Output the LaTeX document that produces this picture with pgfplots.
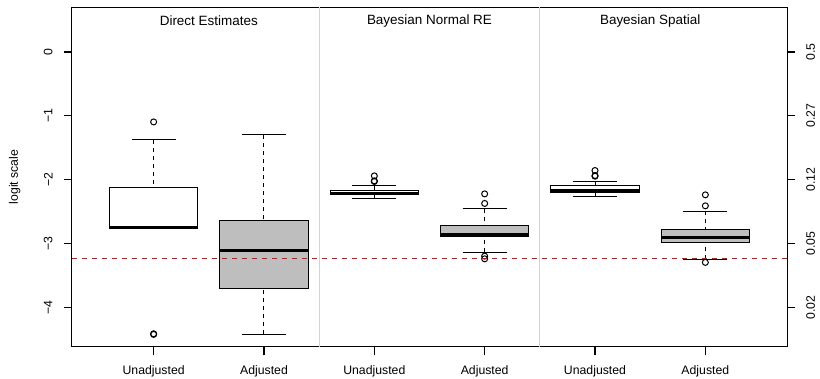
\documentclass[border=0pt]{standalone}
\usepackage{fontspec}
\setmainfont{Liberation Sans}
\usepackage{pgfplots}
\pgfplotsset{compat=1.18}
\usepgfplotslibrary{statistics}
\definecolor{boxgray}{HTML}{BEBEBE}
\definecolor{sepgray}{HTML}{D3D3D3}
\pgfplotsset{
  boxplot/draw/lower whisker/.code={%
    \draw[dash pattern=on 3pt off 3pt] (boxplot cs:\pgfplotsboxplotvalue{lower whisker}) -- (boxplot cs:\pgfplotsboxplotvalue{lower quartile});
    \draw[solid] (boxplot whisker cs:\pgfplotsboxplotvalue{lower whisker},0) -- (boxplot whisker cs:\pgfplotsboxplotvalue{lower whisker},1);
  },
  boxplot/draw/upper whisker/.code={%
    \draw[dash pattern=on 3pt off 3pt] (boxplot cs:\pgfplotsboxplotvalue{upper whisker}) -- (boxplot cs:\pgfplotsboxplotvalue{upper quartile});
    \draw[solid] (boxplot whisker cs:\pgfplotsboxplotvalue{upper whisker},0) -- (boxplot whisker cs:\pgfplotsboxplotvalue{upper whisker},1);
  },
  myax/.style={
    at={(0,0)}, anchor=south west,
    scale only axis, width=536.4pt, height=255pt,
    xmin=0.26, xmax=6.74, ymin=-4.62, ymax=0.704,
    axis line style={line width=0.75pt},
    tick label style={font=\fontsize{9.2}{11}\selectfont},
    tick align=outside, major tick length=6.3pt,
    tick style={black, line width=0.75pt},
  },
  bx/.style={draw=black, line width=0.75pt, mark=o, mark size=2.25pt,
    mark options={solid, line width=0.75pt, draw=black}},
}
\begin{document}
\begin{tikzpicture}
\begin{axis}[myax,
  clip mode=individual,
  xtick={1,2,3,4,5,6},
  xticklabels={Unadjusted,Adjusted,Unadjusted,Adjusted,Unadjusted,Adjusted},
  ytick={-4,-3,-2,-1,0},
  yticklabels={−4,−3,−2,−1,0},
  xtick pos=left, ytick pos=left,
  xticklabel style={anchor=center, yshift=-12.2pt},
  yticklabel style={xshift=-11.5pt, rotate=90, anchor=center},
  ylabel={logit scale},
  every axis y label/.style={at={(rel axis cs:0,0.5)}, xshift=-43pt, rotate=90, anchor=center, font=\fontsize{9.2}{11}\selectfont},
  boxplot/draw direction=y,
  boxplot/box extend=0.8, boxplot/whisker extend=0.4,
  boxplot/every median/.style={line width=2.25pt},
]
\addplot[bx, fill=white, boxplot prepared={draw position=1,
  lower whisker=-2.762, lower quartile=-2.762, median=-2.755,
  upper quartile=-2.122, upper whisker=-1.371}]
  coordinates {(0,-1.095) (0,-4.413) (0,-4.423)};
\addplot[bx, fill=boxgray, boxplot prepared={draw position=2,
  lower whisker=-4.418, lower quartile=-3.697, median=-3.103,
  upper quartile=-2.633, upper whisker=-1.299}]
  coordinates {};
\addplot[bx, fill=white, boxplot prepared={draw position=3,
  lower whisker=-2.300, lower quartile=-2.237, median=-2.216,
  upper quartile=-2.164, upper whisker=-2.096}]
  coordinates {(0,-1.940) (0,-2.018) (0,-2.028)};
\addplot[bx, fill=boxgray, boxplot prepared={draw position=4,
  lower whisker=-3.139, lower quartile=-2.888, median=-2.852,
  upper quartile=-2.722, upper whisker=-2.456}]
  coordinates {(0,-2.222) (0,-2.372) (0,-3.197) (0,-3.239)};
\addplot[bx, fill=white, boxplot prepared={draw position=5,
  lower whisker=-2.258, lower quartile=-2.195, median=-2.175,
  upper quartile=-2.096, upper whisker=-2.028}]
  coordinates {(0,-1.856) (0,-1.935) (0,-1.945)};
\addplot[bx, fill=boxgray, boxplot prepared={draw position=6,
  lower whisker=-3.244, lower quartile=-2.982, median=-2.910,
  upper quartile=-2.779, upper whisker=-2.497}]
  coordinates {(0,-2.237) (0,-2.409) (0,-3.295)};
\addplot[sepgray, line width=0.75pt] coordinates {(2.5,-4.62) (2.5,0.704)};
\addplot[sepgray, line width=0.75pt] coordinates {(4.5,-4.62) (4.5,0.704)};
\addplot[red, line width=1.1pt, dash pattern=on 4pt off 3.5pt] coordinates {(0.26,-3.233) (6.74,-3.233)};
\node[font=\fontsize{10.1}{12}\selectfont] at (axis cs:1.5,0.485) {Direct Estimates};
\node[font=\fontsize{10.1}{12}\selectfont] at (axis cs:3.5,0.485) {Bayesian Normal RE};
\node[font=\fontsize{10.1}{12}\selectfont] at (axis cs:5.5,0.485) {Bayesian Spatial};
\pgfplotsinvokeforeach{1,2,3,4,5,6}{
  \coordinate (xt#1) at (axis cs:#1,-4.62);
}
\pgfplotsinvokeforeach{0,1,2,3,4}{
  \coordinate (yl#1) at (axis cs:0.26,-#1);
  \coordinate (yr#1) at (axis cs:6.74,-#1);
}
\end{axis}
\begin{axis}[myax,
  axis x line=none, axis y line*=right,
  ytick={-4,-3,-2,-1,0},
  yticklabels={0.02,0.05,0.12,0.27,0.5},
  yticklabel style={xshift=11.5pt, rotate=90, anchor=center},
]
\end{axis}
\foreach \i in {1,...,6} {\draw[black, line width=0.8pt] (xt\i) -- ++(0pt,-6.3pt);}
\foreach \i in {0,...,4} {
  \draw[black, line width=0.8pt] (yl\i) -- ++(-6.3pt,0pt);
  \draw[black, line width=0.8pt] (yr\i) -- ++(6.3pt,0pt);
}
\pgfresetboundingbox
\path[use as bounding box] (-54pt,-24pt) rectangle (561.15pt,260.3pt);
\end{tikzpicture}
\end{document}
